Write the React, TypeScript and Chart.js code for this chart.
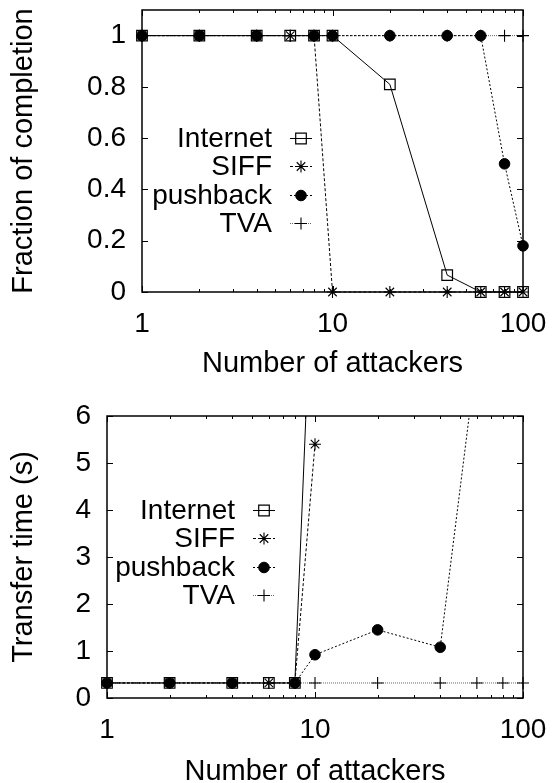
import React, { useEffect, useRef } from "react";
import { Chart, registerables } from "chart.js";
import { drawPoint } from "chart.js/helpers";

Chart.register(...registerables);

// ---------- data ----------
const seriesNames = ["Internet", "SIFF", "pushback", "TVA"];
const xTicks = [1, 10, 100];
const completionTicks = [0, 0.2, 0.4, 0.6, 0.8, 1];
const timeTicks = [0, 1, 2, 3, 4, 5, 6];

const attackers = [1, 2, 4, 6, 8, 10, 20, 40, 60, 80, 100];
const pushbackAttackers = [1, 2, 4, 8, 10, 20, 40, 60, 80, 100];

const completionInternet = [1, 1, 1, 1, 1, 1, 0.81, 0.066, 0, 0, 0];
const completionSIFF = [1, 1, 1, 1, 1, 0, 0, 0, 0, 0, 0];
const completionPushback = [1, 1, 1, 1, 1, 1, 1, 1, 0.5, 0.18];
const completionTVA = [1, 1, 1, 1, 1, 1, 1, 1, 1, 1, 1];

const timeInternetX = [1, 2, 4, 6, 8, 10];
const timeInternet = [0.32, 0.32, 0.32, 0.32, 0.32, 10.7];
const timeSIFFX = [1, 2, 4, 6, 8, 10];
const timeSIFF = [0.32, 0.32, 0.32, 0.32, 0.32, 5.4];
const timePushbackX = [1, 2, 4, 8, 10, 20, 40, 60];
const timePushback = [0.32, 0.32, 0.32, 0.32, 0.92, 1.45, 1.08, 7.3];
const timeTVA = [0.32, 0.32, 0.32, 0.32, 0.32, 0.32, 0.32, 0.32, 0.32, 0.32, 0.32];

// ---------- styles ----------
const FONT = "'Liberation Sans', Arial, Helvetica, sans-serif";
const TICK_FS = 28;
const TITLE_FS = 29;
const LEGEND_FS = 28;

const styles = [
  { borderColor: "#000", borderDash: [], pointStyle: "rect", pointRadius: 7.5, fill: "rgba(0,0,0,0)", pbw: 1.2 },
  { borderColor: "#000", borderDash: [3, 2], pointStyle: "star", pointRadius: 6, fill: "rgba(0,0,0,0)", pbw: 1.1 },
  { borderColor: "#000", borderDash: [2, 2], pointStyle: "circle", pointRadius: 5.3, fill: "#000", pbw: 1 },
  { borderColor: "#666", borderDash: [1, 1], pointStyle: "cross", pointRadius: 6, fill: "rgba(0,0,0,0)", pbw: 1.1 },
];

function zip(xs: number[], ys: number[]) {
  return xs.map((x, i) => ({ x, y: ys[i] }));
}

function makeDataset(i: number, xs: number[], ys: number[]) {
  const s = styles[i];
  return {
    label: seriesNames[i],
    data: zip(xs, ys),
    borderColor: s.borderColor,
    borderWidth: 1,
    borderDash: s.borderDash,
    pointStyle: s.pointStyle,
    pointRadius: s.pointRadius,
    pointHoverRadius: s.pointRadius,
    pointBackgroundColor: s.fill,
    pointBorderColor: "#000",
    pointBorderWidth: s.pbw,
    tension: 0,
    fill: false,
    clip: { left: 12, right: 12, bottom: 12, top: 0 },
  };
}

// frame + inward ticks + legend
const framePlugin = {
  id: "frame",
  afterDraw(chart: any, _args: any, opts: any) {
    const { ctx, chartArea: a } = chart;
    const xs = chart.scales.x;
    const ys = chart.scales.y;
    ctx.save();
    ctx.setLineDash([]);
    ctx.strokeStyle = "#000";
    ctx.lineWidth = 1;
    const major = 6;
    const minor = 3;
    // x ticks
    for (let dec = 1; dec < 100; dec *= 10) {
      for (let m = 1; m <= 10; m++) {
        const v = dec * m;
        const px = Math.round(xs.getPixelForValue(v)) + 0.5;
        const len = m === 1 || m === 10 ? major : minor;
        ctx.beginPath();
        ctx.moveTo(px, a.bottom);
        ctx.lineTo(px, a.bottom - len);
        ctx.moveTo(px, a.top);
        ctx.lineTo(px, a.top + len);
        ctx.stroke();
      }
    }
    // y ticks
    for (const t of ys.ticks) {
      const py = Math.round(ys.getPixelForValue(t.value)) + 0.5;
      ctx.beginPath();
      ctx.moveTo(a.left, py);
      ctx.lineTo(a.left + major, py);
      ctx.moveTo(a.right, py);
      ctx.lineTo(a.right - major, py);
      ctx.stroke();
    }
    // border
    ctx.lineWidth = 1.5;
    ctx.strokeRect(a.left, a.top, a.right - a.left, a.bottom - a.top);

    // legend
    const lx = a.left + opts.textDx;
    const ly0 = a.top + opts.rowDy;
    const step = opts.step;
    chart.data.datasets.forEach((ds: any, i: number) => {
      const y = ly0 + i * step;
      ctx.fillStyle = "#000";
      ctx.font = `${LEGEND_FS}px ${FONT}`;
      ctx.textAlign = "right";
      ctx.textBaseline = "middle";
      ctx.fillText(ds.label, lx, y + 1);
      const x1 = lx + 18;
      const x2 = lx + 40;
      const yy = Math.round(y) + 0.5;
      ctx.strokeStyle = ds.borderColor;
      ctx.lineWidth = 1;
      ctx.setLineDash(ds.borderDash);
      ctx.beginPath();
      ctx.moveTo(x1, yy);
      ctx.lineTo(x2, yy);
      ctx.stroke();
      ctx.setLineDash([]);
      ctx.strokeStyle = "#000";
      ctx.fillStyle = ds.pointBackgroundColor;
      ctx.lineWidth = ds.pointBorderWidth;
      drawPoint(ctx, { pointStyle: ds.pointStyle, radius: ds.pointRadius, rotation: 0, borderWidth: ds.pointBorderWidth }, (x1 + x2) / 2, yy);
    });
    ctx.restore();
  },
};

function makeConfig(
  datasets: any[],
  yMax: number,
  yTicks: number[],
  yTitle: string,
  layout: { top: number; right: number; yW: number; xH: number; xTitlePad: number },
  legend: { textDx: number; rowDy: number; step: number }
) {
  return {
    type: "line",
    data: { datasets },
    plugins: [framePlugin],
    options: {
      animation: false,
      responsive: false,
      devicePixelRatio: 1,
      events: [],
      layout: { padding: { top: layout.top, right: layout.right, left: 0, bottom: 0 } },
      plugins: {
        legend: { display: false },
        tooltip: { enabled: false },
        frame: legend,
      },
      scales: {
        x: {
          type: "logarithmic",
          min: 1,
          max: 100,
          afterBuildTicks: (s: any) => {
            s.ticks = xTicks.map((v) => ({ value: v }));
          },
          afterFit: (s: any) => {
            s.height = layout.xH;
            s.paddingLeft = 0;
            s.paddingRight = 0;
          },
          grid: { display: false },
          border: { display: false },
          ticks: {
            color: "#000",
            font: { family: FONT, size: TICK_FS },
            padding: 7,
            maxRotation: 0,
            autoSkip: false,
            callback: (v: any) => String(v),
          },
          title: {
            display: true,
            text: "Number of attackers",
            color: "#000",
            font: { family: FONT, size: TITLE_FS, lineHeight: 0.6 },
            padding: { top: 0, bottom: layout.xTitlePad },
          },
        },
        y: {
          type: "linear",
          min: 0,
          max: yMax,
          afterBuildTicks: (s: any) => {
            s.ticks = yTicks.map((v) => ({ value: v }));
          },
          afterFit: (s: any) => {
            s.width = layout.yW;
            s.paddingTop = 0;
            s.paddingBottom = 0;
          },
          grid: { display: false },
          border: { display: false },
          ticks: {
            color: "#000",
            font: { family: FONT, size: TICK_FS },
            padding: 8,
            autoSkip: false,
            callback: (v: any) => String(v),
          },
          title: {
            display: true,
            text: yTitle,
            color: "#000",
            font: { family: FONT, size: TITLE_FS, lineHeight: 1 },
            padding: { top: 9, bottom: 0 },
          },
        },
      },
    },
  };
}

function ChartCanvas({ config, height }: { config: () => any; height: number }) {
  const ref = useRef<HTMLCanvasElement | null>(null);
  useEffect(() => {
    if (!ref.current) return;
    const chart = new Chart(ref.current, config());
    return () => chart.destroy();
  }, []);
  return <canvas ref={ref} width={553} height={height} style={{ display: "block", width: 553, height }} />;
}

export default function App() {
  const topConfig = () =>
    makeConfig(
      [
        makeDataset(0, attackers, completionInternet),
        makeDataset(1, attackers, completionSIFF),
        makeDataset(2, pushbackAttackers, completionPushback),
        makeDataset(3, attackers, completionTVA),
      ],
      1.1,
      completionTicks,
      "Fraction of completion",
      { top: 10, right: 30, yW: 142, xH: 100, xTitlePad: 19.3 },
      { textDx: 130, rowDy: 128, step: 28.4 }
    );
  const bottomConfig = () =>
    makeConfig(
      [
        makeDataset(0, timeInternetX, timeInternet),
        makeDataset(1, timeSIFFX, timeSIFF),
        makeDataset(2, timePushbackX, timePushback),
        makeDataset(3, attackers, timeTVA),
      ],
      6,
      timeTicks,
      "Transfer time (s)",
      { top: 24, right: 30, yW: 107, xH: 85, xTitlePad: 2.8 },
      { textDx: 128, rowDy: 94, step: 28.4 }
    );
  return (
    <div style={{ position: "absolute", left: 0, top: 0, width: 553, height: 783, background: "#fff" }}>
      <ChartCanvas config={topConfig} height={392} />
      <ChartCanvas config={bottomConfig} height={391} />
    </div>
  );
}
